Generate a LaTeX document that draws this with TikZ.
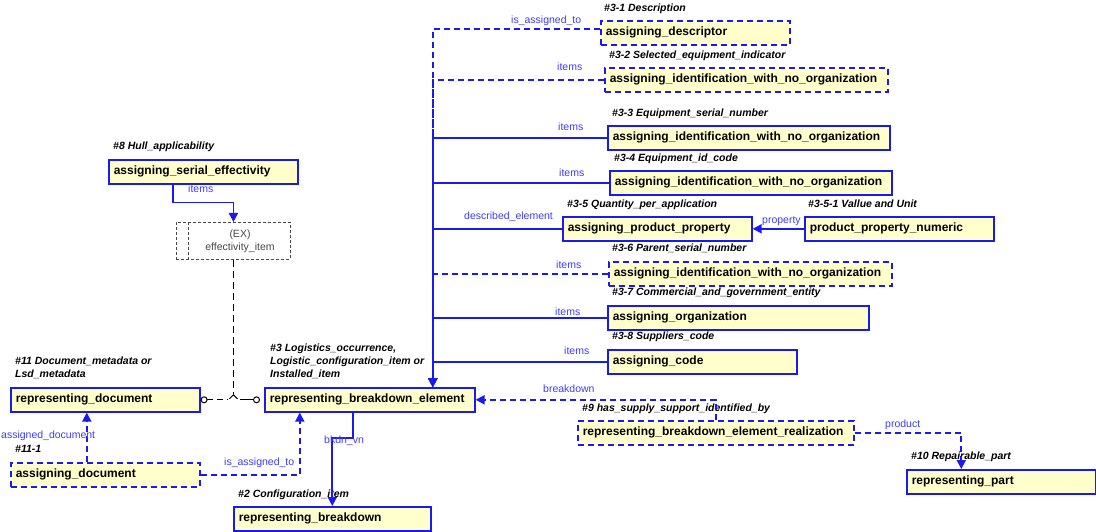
\documentclass[tikz,border=0pt]{standalone}
\usepackage{fontspec}
\setmainfont{Liberation Sans}
\usetikzlibrary{arrows.meta}
\definecolor{bblue}{RGB}{25,25,240}
\definecolor{lblue}{RGB}{60,60,250}
\definecolor{byellow}{RGB}{255,255,204}
\definecolor{exgray}{RGB}{70,70,70}
\tikzset{
  ent/.style={draw=bblue, fill=byellow, line width=1.6pt, anchor=north west,
    minimum height=24pt, inner xsep=5pt, inner ysep=0pt, text height=9pt, text depth=3pt,
    align=left, text width=#1, font=\fontsize{12}{14}\selectfont\bfseries},
  dent/.style={ent=#1, dash pattern=on 6pt off 4pt},
  ttl/.style={anchor=north west, inner sep=0pt, align=left,
    font=\fontsize{10.5}{12.7}\selectfont\bfseries\itshape},
  lbl/.style={anchor=base west, inner sep=0pt, text=lblue, font=\fontsize{10.5}{12}\selectfont},
  conn/.style={draw=bblue, line width=1.8pt, -{Triangle[length=9pt,width=9pt]}},
  dconn/.style={conn, dash pattern=on 6pt off 4pt},
  jline/.style={draw=black, line width=1pt},
}
\begin{document}
\begin{tikzpicture}[x=1pt,y=-1pt]
\useasboundingbox (0,0) rectangle (1096,532);

% entity boxes
\node[dent=179pt] (desc) at (600,20) {assigning\_descriptor};
\node[dent=273pt] (id2) at (604,67) {assigning\_identification\_with\_no\_organization};
\node[ent=272pt] (id3) at (607,125) {assigning\_identification\_with\_no\_organization};
\node[ent=272pt] (id4) at (609,170) {assigning\_identification\_with\_no\_organization};
\node[ent=179pt] (app) at (562,216) {assigning\_product\_property};
\node[ent=179pt] (ppn) at (804,216) {product\_property\_numeric};
\node[dent=273pt] (id6) at (608,261) {assigning\_identification\_with\_no\_organization};
\node[ent=251pt] (ao) at (607,305) {assigning\_organization};
\node[ent=179pt] (ac) at (607,349) {assigning\_code};
\node[ent=200pt] (rbe) at (264,387) {representing\_breakdown\_element};
\node[ent=179pt] (rd) at (10,387) {representing\_document};
\node[dent=179pt] (ad) at (10,462) {assigning\_document};
\node[ent=187pt] (rb) at (233,506) {representing\_breakdown};
\node[ent=179pt] (ase) at (108,159) {assigning\_serial\_effectivity};
\node[dent=266pt] (real) at (577,420) {representing\_breakdown\_element\_realization};
\node[ent=179pt] (rp) at (906,469) {representing\_part};

% EX select box
\node[draw=exgray, dash pattern=on 3pt off 2pt, line width=0.9pt, anchor=north west,
  minimum width=114pt, minimum height=37pt, inner sep=0pt] (ex) at (176,222) {};
\draw[exgray, dash pattern=on 3pt off 2pt, line width=0.9pt]
  ([xshift=12pt]ex.north west) -- ([xshift=12pt]ex.south west);
\node[align=center, inner sep=0pt, text=exgray, font=\fontsize{10.5}{13}\selectfont] (ext)
  at (240,241) {(EX)\\effectivity\_item};

% titles
\node[ttl] (t31) at (604,4) {\#3-1 Description};
\node[ttl] (t32) at (609,51) {\#3-2 Selected\_equipment\_indicator};
\node[ttl] (t33) at (612,109) {\#3-3 Equipment\_serial\_number};
\node[ttl] (t34) at (614,154) {\#3-4 Equipment\_id\_code};
\node[ttl] (t35) at (567,200) {\#3-5 Quantity\_per\_application};
\node[ttl] (t351) at (808,200) {\#3-5-1 Vallue and Unit};
\node[ttl] (t36) at (612,244) {\#3-6 Parent\_serial\_number};
\node[ttl] (t37) at (612,288) {\#3-7 Commercial\_and\_government\_entity};
\node[ttl] (t38) at (612,332) {\#3-8 Suppliers\_code};
\node[ttl] (t8) at (113,142) {\#8 Hull\_applicability};
\node[ttl] (t11) at (15,357) {\#11 Document\_metadata or\\Lsd\_metadata};
\node[ttl] (t3) at (270,344) {\#3 Logistics\_occurrence,\\Logistic\_configuration\_item or\\Installed\_item};
\node[ttl] (t111) at (15,445) {\#11-1};
\node[ttl] (t2) at (238,490) {\#2 Configuration\_item};
\node[ttl] (t9) at (582,404) {\#9 has\_supply\_support\_identified\_by};
\node[ttl] (t10) at (911,452) {\#10 Repairable\_part};

% connectors to trunk
\coordinate (trunk) at ([xshift=63pt]rbe.north);
\draw[dconn] ([yshift=4pt]desc.west) -| (trunk);
\draw[dconn] (id2.west) -| (trunk);
\draw[dconn] (id6.west) -| (trunk);
\draw[conn] (id3.west) -| (trunk);
\draw[conn] (id4.west) -| (trunk);
\draw[conn] (app.west) -| (trunk);
\draw[conn] (ao.west) -| (trunk);
\draw[conn] (ac.west) -| (trunk);

\draw[conn] (ppn.west) -- (app.east);
\draw[dconn] (real.north) |- (rbe.east);
\draw[dconn] (real.east) -| ([xshift=-40pt]rp.north);
\draw[conn] ([xshift=-17pt]rbe.south) -- ++(0,25) -| (rb.north);
\draw[dconn] ([xshift=-18.5pt]ad.north) -- ([xshift=-18.5pt]rd.south);
\draw[dconn] (ad.east) -| ([xshift=-70pt]rbe.south);
\draw[conn] ([xshift=-30.5pt]ase.south) -- ++(0,18) -| (ex.north);

% select junction
\coordinate (jn) at (ex.south |- rd.east);
\draw[jline, dash pattern=on 7pt off 4pt] (ex.south) -- ([yshift=6pt]jn);
\draw[jline] ([xshift=-4pt,yshift=1pt]jn) -- ([yshift=5pt]jn) -- ([xshift=4pt,yshift=1pt]jn);
\draw[jline, dash pattern=on 6pt off 4pt] ([xshift=6.5pt]rd.east) -- ([xshift=-5pt]jn);
\draw[jline] ([xshift=7pt]jn) -- ([xshift=-11pt]rbe.west);
\draw[jline, fill=white] ([xshift=3.5pt]rd.east) circle (3pt);
\draw[jline, fill=white] ([xshift=-7.5pt]rbe.west) circle (3pt);

% connector labels
\node[lbl] (l1) at (511,24) {is\_assigned\_to};
\node[lbl] (l2) at (557,71) {items};
\node[lbl] (l3) at (558,131) {items};
\node[lbl] (l4) at (559,177) {items};
\node[lbl] (l5) at (464,220) {described\_element};
\node[lbl] (l6) at (762,224) {property};
\node[lbl] (l7) at (556,268) {items};
\node[lbl] (l8) at (555,315) {items};
\node[lbl] (l9) at (564,354) {items};
\node[lbl] (l10) at (543,392) {breakdown};
\node[lbl] (l11) at (885,427) {product};
\node[lbl] (l12) at (188,193) {items};
\node[lbl] (l13) at (324,443) {bkdn\_vn};
\node[lbl] (l14) at (1,438) {assigned\_document};
\node[lbl] (l15) at (224,465) {is\_assigned\_to};
\end{tikzpicture}
\end{document}
